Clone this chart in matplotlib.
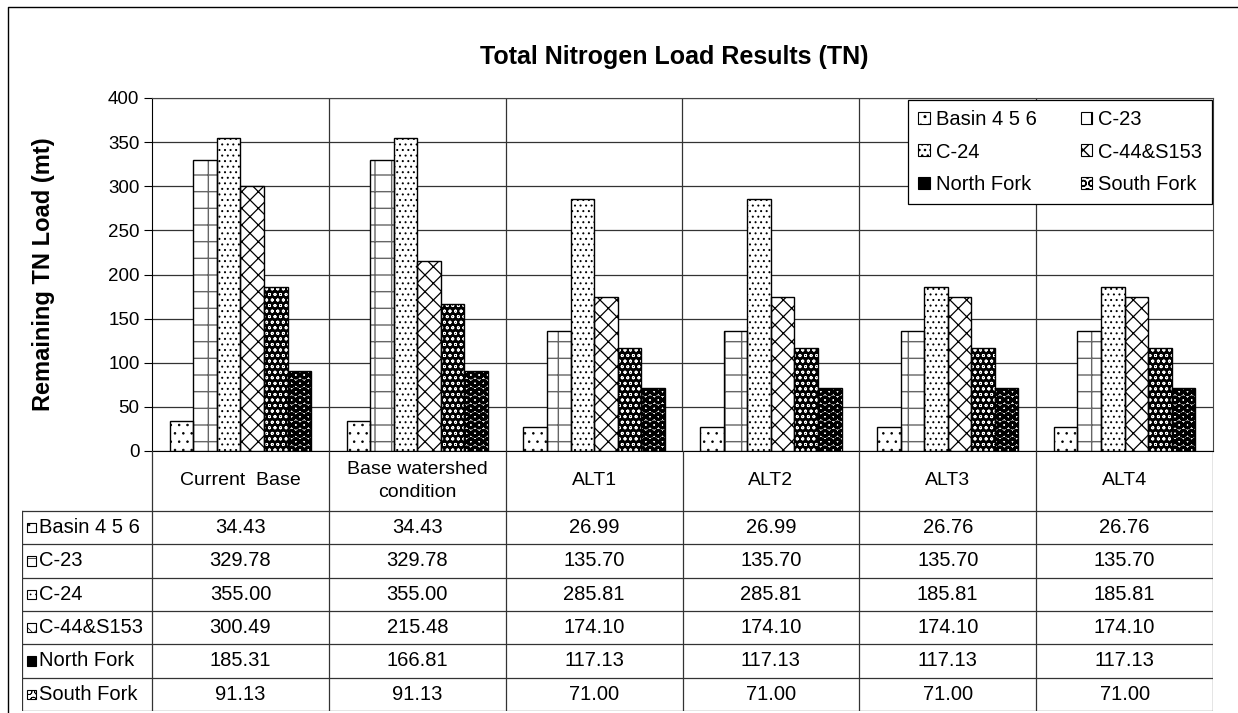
import numpy as np
import matplotlib
matplotlib.use("Agg")
import matplotlib.pyplot as plt
from matplotlib.patches import Rectangle

plt.rcParams['font.family'] = ['Liberation Sans', 'DejaVu Sans']

# data
categories = ["Current  Base", "Base watershed\ncondition", "ALT1", "ALT2", "ALT3", "ALT4"]
series = ["Basin 4 5 6", "C-23", "C-24", "C-44&S153", "North Fork", "South Fork"]
basin_456 = [34.43, 34.43, 26.99, 26.99, 26.76, 26.76]
c_23 = [329.78, 329.78, 135.70, 135.70, 135.70, 135.70]
c_24 = [355.00, 355.00, 285.81, 285.81, 185.81, 185.81]
c_44_s153 = [300.49, 215.48, 174.10, 174.10, 174.10, 174.10]
north_fork = [185.31, 166.81, 117.13, 117.13, 117.13, 117.13]
south_fork = [91.13, 91.13, 71.00, 71.00, 71.00, 71.00]
values = [basin_456, c_23, c_24, c_44_s153, north_fork, south_fork]

# face, hatch colour, hatch pattern, hatch linewidth
styles = [
    ("white", "black", "..", 0.6),
    ("white", "#666666", "+", 1.0),
    ("white", "black", "...", 0.7),
    ("white", "black", "xx", 0.9),
    ("black", "white", "ooo", 0.6),
    ("white", "black", "OO", 2.2),
]

W, H = 1238, 713
fig = plt.figure(figsize=(W / 100, H / 100), dpi=100)


def fig_rect(x0, y0, x1, y1):
    return [x0 / W, 1 - y1 / H, (x1 - x0) / W, (y1 - y0) / H]


# outer frame
frame = fig.add_axes([0, 0, 1, 1])
frame.set_xlim(0, W)
frame.set_ylim(H, 0)
frame.axis("off")
frame.plot([8, 8, W], [H, 7, 7], color="black", lw=1)

ax = fig.add_axes(fig_rect(152, 98, 1213, 451))
n = len(categories)
x = np.arange(n)
bw = 0.8 / len(series)


def hatched_bar(axis, xs, hs, st, width):
    face, hc, hatch, hlw = st
    with plt.rc_context({'hatch.linewidth': hlw}):
        axis.bar(xs, hs, width, color=face, edgecolor=hc,
                 hatch=hatch, linewidth=0, zorder=3)
    axis.bar(xs, hs, width, fill=False, edgecolor="black",
             linewidth=1, zorder=4)


for j, (vals, st) in enumerate(zip(values, styles)):
    hatched_bar(ax, x + (j - 2.5) * bw, vals, st, bw)

ax.set_xlim(-0.5, n - 0.5)
ax.set_ylim(0, 400)
ax.set_yticks(np.arange(0, 401, 50))
ax.tick_params(axis="y", labelsize=13.5, length=6, direction="out", pad=3)
ax.set_xticks([])
ax.grid(axis="y", color="#333333", lw=0.9, zorder=1)
for b in np.arange(0.5, n - 0.5, 1):
    ax.axvline(b, color="#333333", lw=0.9, zorder=1)
for s in ["top", "right"]:
    ax.spines[s].set_color("#444444")
ax.set_ylabel("Remaining TN Load (mt)", fontsize=17, fontweight="bold", labelpad=38)
fig.text(674 / W, 1 - 57 / H, "Total Nitrogen Load Results (TN)", ha="center",
         va="center", fontsize=18, fontweight="bold")

# legend proxies (small hatched squares)
proxies = []
for st in styles:
    face, hc, hatch, hlw = st
    with plt.rc_context({'hatch.linewidth': 0.5}):
        proxies.append(Rectangle((0, 0), 1, 1, facecolor=face, edgecolor="black",
                                 hatch=hatch if face == "white" else None, lw=0.8))
order = [0, 2, 4, 1, 3, 5]
leg = ax.legend([proxies[i] for i in order], [series[i] for i in order], ncol=2,
                loc="upper right", bbox_to_anchor=(0.999, 0.995), fontsize=14.5,
                frameon=True, fancybox=False, edgecolor="black", framealpha=1,
                handlelength=0.55, handleheight=0.55, handletextpad=0.3,
                columnspacing=2.2, labelspacing=0.68, borderpad=0.5,
                borderaxespad=0.0)
leg.get_frame().set_linewidth(0.9)
leg.set_zorder(10)

# data table below the chart
tab = fig.add_axes(fig_rect(22, 451, 1213, 711))
lab_w = (152 - 22) / ((1213 - 152) / n)
hdr = 1.8
tab.set_xlim(-0.5 - lab_w, n - 0.5)
tab.set_ylim(-(hdr + len(series)), 0)
tab.axis("off")
lc = "#333333"
for b in np.arange(-0.5, n, 1):
    tab.plot([b, b], [0, -(hdr + len(series))], color=lc, lw=0.9)
tab.plot([-0.5 - lab_w, -0.5 - lab_w], [-hdr, -(hdr + len(series))], color=lc, lw=0.9)
for i, c in enumerate(categories):
    tab.text(i, -hdr / 2, c, ha="center", va="center", fontsize=14,
             linespacing=1.4)
for r in range(len(series) + 1):
    tab.plot([-0.5 - lab_w, n - 0.5], [-(hdr + r)] * 2, color=lc, lw=0.9)
px = 1.0 / ((1213 - 152) / n)
py = 1.0 / 33.3
for r, (name, vals, st) in enumerate(zip(series, values, styles)):
    yc = -(hdr + r + 0.5)
    face, hc, hatch, hlw = st
    with plt.rc_context({'hatch.linewidth': 0.5}):
        tab.add_patch(Rectangle((-0.5 - lab_w + 5 * px, yc - 4.5 * py), 9 * px, 9 * py,
                                facecolor=face, edgecolor="black",
                                hatch=hatch if face == "white" else None, lw=0.8))
    tab.text(-0.5 - lab_w + 17 * px, yc, name, ha="left", va="center", fontsize=14.5)
    for i, v in enumerate(vals):
        tab.text(i, yc, f"{v:.2f}", ha="center", va="center", fontsize=14.5)

fig.savefig("out.png", dpi=100)
